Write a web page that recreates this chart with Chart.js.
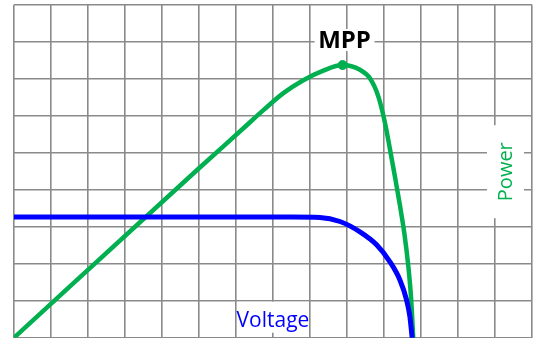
<!DOCTYPE html>
<html>
<head>
<meta charset="utf-8">
<script src="https://cdn.jsdelivr.net/npm/chart.js@4"></script>
<style>
  html, body { margin: 0; padding: 0; background: #fff; }
  #wrap { width: 536px; height: 338px; }
</style>
</head>
<body>
<div id="wrap"><canvas id="pv"></canvas></div>
<script>
// I-V curve of the cell (voltage and current in grid units)
var currentV = [0, 7.5, 8.27, 8.81, 9.35, 9.80, 10.16, 10.43, 10.61, 10.70, 10.76];
var currentI = [3.26, 3.26, 3.25, 3.14, 2.86, 2.51, 2.05, 1.56, 1.02, 0.57, 0];

// P-V curve, same voltage axis
var powerV = [0, 5.0, 6.20, 6.74, 7.28, 7.82, 8.36, 8.88, 9.35, 9.62, 9.85, 10.03, 10.16, 10.30, 10.43, 10.55, 10.65, 10.73, 10.79];
var powerP = [0, 4.58, 5.66, 6.15, 6.61, 6.96, 7.22, 7.37, 7.24, 7.01, 6.51, 5.79, 5.10, 4.33, 3.58, 2.82, 2.00, 1.10, 0];

var gridCols = 14;
var gridRows = 9;

var BLUE = '#0000ff';
var GREEN = '#00b050';
var GRID = '#8a8a8a';

function toPoints(xs, ys) {
    return xs.map(function (x, i) { return { x: x, y: ys[i] }; });
}

// maximum power point = peak of the power series
var mppIndex = powerP.indexOf(Math.max.apply(null, powerP));
var mpp = { x: powerV[mppIndex], y: powerP[mppIndex] };

function whiteBox(ctx, x, y, w, h) {
    ctx.fillStyle = '#fff';
    ctx.fillRect(x, y, w, h);
}

// text labels with a white patch behind them
var curveLabels = {
    id: 'curveLabels',
    afterDatasetsDraw: function (chart) {
        var ctx = chart.ctx;
        var xs = chart.scales.x, ys = chart.scales.y;
        var area = chart.chartArea;
        ctx.save();

        // MPP above the peak
        var px = xs.getPixelForValue(mpp.x) + 2;
        var py = ys.getPixelForValue(mpp.y) - 25;
        whiteBox(ctx, px - 30, py - 11, 60, 22);
        ctx.fillStyle = '#000';
        ctx.font = 'bold 24px "Open Sans", sans-serif';
        ctx.textAlign = 'center';
        ctx.textBaseline = 'middle';
        ctx.fillText('MPP', px, py + 1);

        // Power, rotated, near the right edge
        var cx = area.right - 26.5, cy = area.top + 167;
        whiteBox(ctx, cx - 18.5, cy - 46.5, 37, 93);
        ctx.translate(cx, cy);
        ctx.rotate(-Math.PI / 2);
        ctx.fillStyle = GREEN;
        ctx.font = '20px "Open Sans", sans-serif';
        ctx.fillText('Power', 0, 1);
        ctx.setTransform(1, 0, 0, 1, 0, 0);

        // Voltage along the bottom
        var vx = xs.getPixelForValue(7);
        whiteBox(ctx, vx - 36, area.bottom - 36, 72, 31);
        ctx.fillStyle = BLUE;
        ctx.font = '21px "Open Sans", sans-serif';
        ctx.textBaseline = 'alphabetic';
        ctx.fillText('Voltage', vx, area.bottom - 10.5);

        ctx.restore();
    }
};

var axisGrid = {
    color: GRID,
    lineWidth: 1.6,
    drawTicks: false
};

new Chart(document.getElementById('pv'), {
    type: 'scatter',
    data: {
        datasets: [
            {
                label: 'MPP',
                data: [mpp],
                pointRadius: 4.5,
                pointBackgroundColor: GREEN,
                pointBorderColor: GREEN,
                showLine: false
            },
            {
                label: 'Current',
                data: toPoints(currentV, currentI),
                showLine: true,
                borderColor: BLUE,
                borderWidth: 5,
                borderCapStyle: 'round',
                cubicInterpolationMode: 'monotone',
                pointRadius: 0
            },
            {
                label: 'Power',
                data: toPoints(powerV, powerP),
                showLine: true,
                borderColor: GREEN,
                borderWidth: 4.5,
                borderCapStyle: 'round',
                cubicInterpolationMode: 'monotone',
                pointRadius: 0
            }
        ]
    },
    options: {
        responsive: true,
        maintainAspectRatio: false,
        animation: false,
        layout: {
            autoPadding: false,
            padding: { left: 14, right: 4, top: 4.7, bottom: 0.3 }
        },
        plugins: {
            legend: { display: false },
            tooltip: { enabled: false }
        },
        scales: {
            x: {
                type: 'linear',
                min: 0,
                max: gridCols,
                ticks: { display: false, stepSize: 1 },
                grid: axisGrid,
                border: { display: false }
            },
            y: {
                type: 'linear',
                min: 0,
                max: gridRows,
                ticks: { display: false, stepSize: 1 },
                grid: axisGrid,
                border: { display: false }
            }
        }
    },
    plugins: [curveLabels]
});
</script>
</body>
</html>
